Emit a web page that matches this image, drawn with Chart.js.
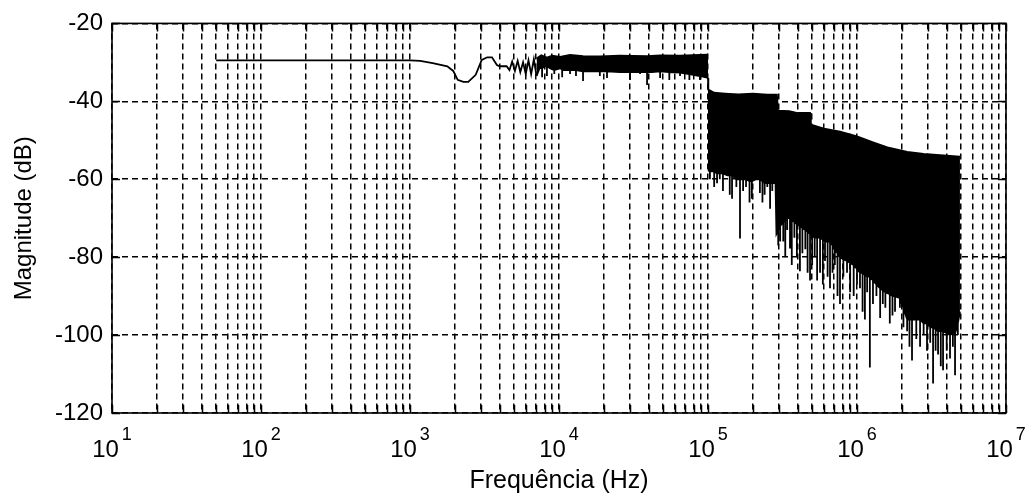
<!DOCTYPE html>
<html>
<head>
<meta charset="utf-8">
<script src="https://cdn.jsdelivr.net/npm/chart.js@4"></script>
<style>
  html, body { margin: 0; padding: 0; background: #fff; }
  canvas { display: block; }
</style>
</head>
<body>
<canvas id="magChart" width="1026" height="499"></canvas>
<script>
// clean part of the response (Hz, dB)
const traceFreq = [50, 1000, 1170, 1420, 1780, 1950, 2090, 2280, 2460, 2760, 3030, 3300, 3550, 3830, 4000,
  4450, 4650, 4850, 5060, 5280, 5500, 5740, 5980, 6240, 6500, 6780, 7070];
const traceMag = [-29.5, -29.5, -29.6, -30.2, -31, -32.2, -34.5, -35, -35, -33.2, -29.4, -28.7, -28.7, -30.7, -31,
  -31, -32, -29.8, -32.2, -29.6, -32.5, -30, -33, -29.5, -33, -29.2, -33.5];

// dense band 7 kHz .. 100 kHz
const band1Freq = [7070, 7600, 8300, 9000, 10160, 11860, 14500, 18800, 25600, 39000, 47700, 64900, 88300, 100000];
const band1Top = [-29, -28.2, -28.8, -28.3, -28.6, -28.1, -28.4, -28.5, -28.3, -28.4, -28.2, -28.3, -28.1, -28];
const band1LowFreq = [7070, 7400, 7700, 8000, 8300, 8700, 9300, 10160, 10500, 11000, 11860, 13000, 14500, 15500,
  18800, 21000, 25600, 30000, 35000, 39000, 42000, 47700, 55000, 64900, 75000, 88300, 100000];
const band1LowBase = [-33.5, -31.5, -31.5, -31, -31, -31.5, -32, -31.5, -31.8, -32, -32, -32, -32.3, -32.3,
  -32.3, -32.3, -32.5, -32.5, -32.5, -32.5, -32.5, -32.3, -32.5, -32.6, -33, -33.5, -34];
const band1LowTip = [-33.5, -31.5, -33.8, -31, -33.5, -31.5, -33, -31.5, -33.8, -32, -33, -33.5, -34.8, -32.3,
  -33.5, -34, -32.5, -34.5, -33, -35.8, -32.5, -34, -34.5, -33.5, -34.5, -34.5, -34];

// dense band 100 kHz .. 4.9 MHz
const band2Freq = [100000, 100500, 110000, 130000, 160000, 200000, 250000, 290000, 295000, 350000, 400000,
  484000, 490000, 600000, 769000, 1.0e6, 1.28e6, 1.6e6, 2.17e6, 2.8e6, 3.61e6, 4.91e6];
const band2Top = [-34, -37, -37.8, -38, -38.2, -38, -38.3, -38.3, -42.4, -42.5, -43,
  -43, -46, -47, -47.8, -49, -50.5, -51.8, -53, -53.5, -53.8, -54.2];
const band2LowFreq = [
  1.0e5, 1.03e5, 1.065e5, 1.1e5, 1.15e5, 1.2e5, 1.26e5, 1.35e5, 1.4e5, 1.45e5,
  1.55e5, 1.64e5, 1.72e5, 1.8e5, 1.9e5, 1.97e5, 2.1e5, 2.23e5, 2.32e5, 2.4e5,
  2.5e5, 2.61e5, 2.7e5, 2.84e5, 2.88e5, 2.96e5, 3.05e5, 3.2e5, 3.3e5, 3.4e5,
  3.55e5, 3.65e5, 3.8e5, 3.95e5, 4.14e5, 4.3e5, 4.5e5, 4.66e5, 4.84e5, 5.0e5,
  5.2e5, 5.4e5, 5.65e5, 5.9e5, 6.1e5, 6.35e5, 6.59e5, 6.85e5, 7.1e5, 7.4e5,
  7.69e5, 8.1e5, 8.57e5, 9.0e5, 9.5e5, 1.0e6, 1.047e6, 1.09e6, 1.13e6, 1.17e6,
  1.22e6, 1.28e6, 1.35e6, 1.43e6, 1.49e6, 1.55e6, 1.66e6, 1.73e6, 1.8e6, 1.94e6,
  2.05e6, 2.17e6, 2.25e6, 2.34e6, 2.5e6, 2.65e6, 2.8e6, 2.95e6, 3.1e6, 3.24e6,
  3.37e6, 3.5e6, 3.65e6, 3.78e6, 4.0e6, 4.21e6, 4.4e6, 4.55e6, 4.75e6, 4.91e6];
const band2LowBase = [
  -57.7, -58, -58, -58, -58.5, -58.5, -58.5, -59, -59, -59,
  -60, -60, -60, -60, -60.5, -60.5, -60, -60, -60.5, -61,
  -61, -61, -61, -61, -74, -73, -72, -71, -70.5, -70,
  -70, -70.5, -71, -71.5, -72, -72.5, -73, -73.5, -74, -74.5,
  -75, -75, -75, -75.5, -76, -76, -76, -77, -78, -79,
  -80, -80.5, -81, -81.5, -82, -83, -84, -84, -84.5, -85,
  -85, -86, -87, -88, -88.5, -89, -89.5, -90, -90, -90.5,
  -93, -96, -96, -96, -96, -96, -97, -97, -98, -98,
  -98.5, -99, -99, -99, -99.5, -100, -99.5, -99.6, -97, -94];
const band2LowTip = [
  -57.7, -60, -58, -62, -61, -60, -63, -59, -64, -65,
  -62, -75.2, -63, -62, -66, -65, -60, -63.5, -66, -64,
  -62, -67.6, -63, -61, -74, -77, -76, -76, -80, -73,
  -77.8, -82, -75, -80, -83.6, -79, -78, -84, -86, -82,
  -80, -86, -84, -87, -81, -85, -88, -84, -82, -90,
  -92, -85, -84, -89, -90, -87, -88, -94, -96, -89,
  -108.3, -92, -90, -95.6, -92, -93, -97, -95, -94, -93,
  -98, -99, -103, -106.5, -101, -103, -100, -104, -102, -112.4,
  -104, -105, -108, -109, -104, -106, -103, -110.3, -100, -94];

const xDecades = [1, 2, 3, 4, 5, 6, 7];
const yTickValues = [-120, -100, -80, -60, -40, -20];

const FONT = '"Liberation Sans", Arial, sans-serif';

function pairs(fs, ms) {
  return fs.map((f, i) => ({ x: f, y: ms[i] }));
}

// lower edge: each entry drops from its base to its spike tip and back
function spiky(fs, base, tip) {
  const out = [];
  fs.forEach((f, i) => {
    out.push({ x: f, y: base[i] });
    if (tip[i] !== base[i]) {
      out.push({ x: f, y: tip[i] });
      out.push({ x: f, y: base[i] });
    }
  });
  return out;
}

// 1..9 x 10^d grid positions
const xGrid = [];
xDecades.slice(0, -1).forEach(d => {
  for (let m = 1; m < 10; m++) xGrid.push(m * Math.pow(10, d));
});
xGrid.push(Math.pow(10, xDecades[xDecades.length - 1]));

const lineStyle = { borderColor: '#000', borderWidth: 1.8, pointRadius: 0, tension: 0, fill: false };

const matlabFrame = {
  id: 'matlabFrame',
  afterDraw(chart) {
    const { ctx, chartArea: a, scales: { x, y } } = chart;
    ctx.save();
    ctx.strokeStyle = '#000';
    ctx.lineWidth = 1.6;
    ctx.strokeRect(a.left, a.top, a.right - a.left, a.bottom - a.top);

    ctx.beginPath();
    xGrid.forEach(v => {
      const px = Math.round(x.getPixelForValue(v)) + 0.5;
      ctx.moveTo(px, a.bottom); ctx.lineTo(px, a.bottom - 8);
      ctx.moveTo(px, a.top); ctx.lineTo(px, a.top + 8);
    });
    yTickValues.forEach(v => {
      const py = Math.round(y.getPixelForValue(v)) + 0.5;
      ctx.moveTo(a.left, py); ctx.lineTo(a.left + 8, py);
      ctx.moveTo(a.right, py); ctx.lineTo(a.right - 8, py);
    });
    ctx.lineWidth = 1.5;
    ctx.stroke();

    // 10^n labels
    const baseFont = '24px ' + FONT;
    const expFont = '18px ' + FONT;
    ctx.fillStyle = '#000';
    ctx.textBaseline = 'alphabetic';
    ctx.textAlign = 'left';
    xDecades.forEach(d => {
      const px = x.getPixelForValue(Math.pow(10, d));
      ctx.font = baseFont;
      const w1 = ctx.measureText('10').width;
      ctx.font = expFont;
      const w2 = ctx.measureText(String(d)).width;
      const start = px - (w1 + 3 + w2) / 2;
      ctx.font = baseFont;
      ctx.fillText('10', start, a.bottom + 44);
      ctx.font = expFont;
      ctx.fillText(String(d), start + w1 + 3, a.bottom + 27);
    });
    ctx.restore();
  }
};

new Chart(document.getElementById('magChart'), {
  type: 'line',
  data: {
    datasets: [
      { ...lineStyle, data: pairs(traceFreq, traceMag) },
      { ...lineStyle, data: pairs(band1Freq, band1Top) },
      { ...lineStyle, data: spiky(band1LowFreq, band1LowBase, band1LowTip), fill: '-1', backgroundColor: '#000' },
      { ...lineStyle, data: pairs(band2Freq, band2Top) },
      { ...lineStyle, data: spiky(band2LowFreq, band2LowBase, band2LowTip), fill: '-1', backgroundColor: '#000' }
    ]
  },
  options: {
    responsive: false,
    animation: false,
    devicePixelRatio: 1,
    layout: { padding: { top: 20, right: 20, left: 0, bottom: 0 } },
    plugins: { legend: { display: false }, tooltip: { enabled: false } },
    scales: {
      x: {
        type: 'logarithmic',
        min: 10,
        max: 1e7,
        afterBuildTicks: s => { s.ticks = xGrid.map(v => ({ value: v })); },
        afterFit: s => { s.height = 86; },
        ticks: { autoSkip: false, maxRotation: 0, callback: () => '' },
        grid: { color: '#000', lineWidth: 1.5, drawTicks: false },
        border: { display: false, dash: [6, 4] },
        title: {
          display: true,
          text: 'Frequência (Hz)',
          color: '#000',
          font: { family: FONT, size: 25 },
          padding: { top: 0, bottom: 3 }
        }
      },
      y: {
        min: -120,
        max: -20,
        afterBuildTicks: s => { s.ticks = yTickValues.map(v => ({ value: v })); },
        afterFit: s => { s.width = 112; },
        ticks: { color: '#000', padding: 9, font: { family: FONT, size: 24 } },
        grid: { color: '#000', lineWidth: 1.5, drawTicks: false },
        border: { display: false, dash: [6, 4] },
        title: {
          display: true,
          text: 'Magnitude (dB)',
          color: '#000',
          font: { family: FONT, size: 24 },
          padding: { top: 10, bottom: 0 }
        }
      }
    }
  },
  plugins: [matlabFrame]
});
</script>
</body>
</html>
